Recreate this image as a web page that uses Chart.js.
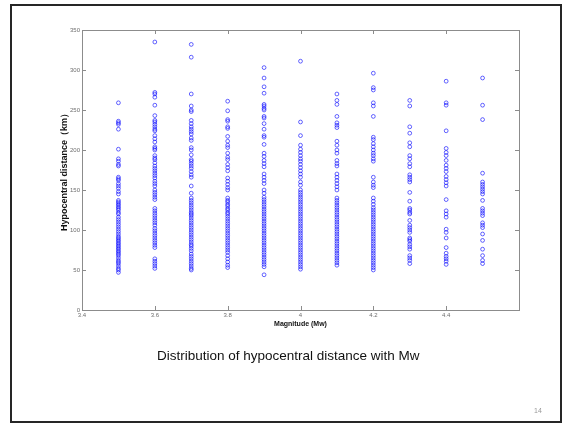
<!DOCTYPE html>
<html>
<head>
<meta charset="utf-8">
<title>Hypocentral distance vs Mw</title>
<script src="https://cdn.jsdelivr.net/npm/chart.js@4.4.1/dist/chart.umd.min.js"></script>
<style>
  html, body { margin: 0; padding: 0; background: #fff; }
  #slide {
    position: absolute; left: 10px; top: 4px; width: 552px; height: 419px;
    border: 2px solid #262626; box-sizing: border-box;
  }
  #plot { position: absolute; left: 0; top: 0; }
  .caption {
    position: absolute; left: 157px; top: 348px;
    font: 13.5px "Liberation Sans", Arial, sans-serif; color: #111;
  }
  .page {
    position: absolute; left: 534px; top: 407px;
    font: 7px "Liberation Sans", Arial, sans-serif; color: #999;
  }
</style>
</head>
<body>
<div id="slide"></div>
<canvas id="plot" width="571" height="424"></canvas>
<div class="caption">Distribution of hypocentral distance with Mw</div>
<div class="page">14</div>

<script>
// magnitude bins and the hypocentral distances (km) recorded in each
const magnitudes = [3.5, 3.6, 3.7, 3.8, 3.9, 4.0, 4.1, 4.2, 4.3, 4.4, 4.5];

const dist35 = [259, 236, 234, 232, 226, 201, 189, 186, 182, 180, 166, 164, 162, 158, 155, 152, 148, 145,
  137, 135, 133, 131, 129, 127, 125, 122, 120, 116, 113, 110, 107, 104, 101, 98, 95, 92, 90, 88, 86, 84,
  82, 80, 78, 76, 74, 72, 70, 68, 65, 62, 60, 58, 55, 52, 50, 47];
const dist36 = [335, 272, 270, 266, 256, 243, 237, 235, 232, 229, 226, 224, 218, 214, 210, 204, 202, 200,
  193, 190, 188, 184, 180, 177, 174, 171, 168, 165, 161, 158, 155, 150, 147, 144, 141, 138, 127, 124, 121,
  118, 115, 112, 109, 106, 102, 99, 96, 93, 90, 87, 84, 81, 78, 64, 61, 58, 55, 52];
const dist37 = [332, 316, 270, 255, 250, 248, 237, 233, 229, 226, 223, 220, 215, 212, 203, 200, 194, 188,
  186, 183, 180, 177, 173, 169, 166, 155, 146, 140, 137, 134, 131, 128, 125, 122, 120, 118, 115, 112, 109,
  106, 103, 100, 97, 94, 91, 88, 85, 82, 80, 77, 74, 70, 67, 64, 61, 58, 55, 52, 50];
const dist38 = [261, 249, 238, 236, 229, 227, 217, 211, 206, 203, 196, 191, 188, 182, 178, 174, 165, 161,
  157, 153, 150, 140, 137, 135, 132, 130, 127, 125, 122, 120, 117, 114, 111, 108, 105, 102, 99, 96, 93,
  90, 87, 84, 81, 78, 75, 72, 68, 64, 60, 56, 53];
const dist39 = [303, 290, 279, 271, 257, 255, 252, 250, 242, 240, 233, 226, 218, 216, 207, 196, 192, 187,
  183, 179, 170, 166, 162, 158, 150, 146, 141, 138, 135, 132, 129, 126, 123, 120, 117, 114, 111, 108, 105,
  102, 99, 96, 93, 90, 87, 84, 81, 78, 75, 72, 69, 66, 63, 60, 57, 54, 44];
const dist40 = [311, 235, 218, 206, 201, 197, 193, 189, 186, 182, 178, 174, 170, 166, 160, 156, 150, 147,
  144, 141, 138, 135, 132, 129, 126, 123, 120, 117, 114, 111, 108, 105, 102, 99, 96, 93, 90, 87, 84, 81,
  78, 75, 72, 69, 66, 63, 60, 57, 54, 51];
const dist41 = [270, 262, 257, 242, 234, 231, 228, 211, 206, 200, 196, 187, 183, 180, 170, 166, 162, 158,
  154, 150, 140, 137, 134, 131, 128, 125, 122, 119, 116, 113, 110, 107, 104, 101, 98, 95, 92, 89, 86, 83,
  80, 77, 74, 71, 68, 65, 62, 59, 56];
const dist42 = [296, 278, 275, 259, 255, 242, 216, 213, 208, 204, 200, 196, 193, 189, 186, 166, 160, 156,
  153, 140, 136, 132, 128, 125, 122, 119, 116, 113, 110, 107, 104, 101, 98, 95, 92, 89, 86, 83, 80, 77,
  74, 71, 68, 65, 62, 59, 56, 53, 50];
const dist43 = [262, 255, 229, 221, 209, 204, 193, 189, 183, 179, 169, 166, 163, 160, 147, 136, 127, 125,
  122, 120, 112, 106, 103, 100, 97, 90, 88, 86, 82, 79, 76, 68, 65, 62, 58];
const dist44 = [286, 259, 256, 224, 202, 197, 193, 187, 181, 177, 173, 167, 163, 159, 155, 138, 124, 120,
  116, 101, 97, 90, 78, 71, 67, 64, 61, 57];
const dist45 = [290, 256, 238, 171, 160, 157, 154, 151, 148, 145, 137, 127, 124, 121, 118, 109, 106, 103,
  95, 87, 76, 68, 62, 58];

const distances = [dist35, dist36, dist37, dist38, dist39, dist40, dist41, dist42, dist43, dist44, dist45];

const xTicks = [3.4, 3.6, 3.8, 4.0, 4.2, 4.4, 4.6];
const xTickLabels = ['3.4', '3.6', '3.8', '4', '4.2', '4.4', ''];
const yTicks = [0, 50, 100, 150, 200, 250, 300, 350];

const points = [];
magnitudes.forEach((m, i) => {
  distances[i].forEach(d => points.push({ x: m, y: d }));
});

const axisGrey = '#8c8c8c';
const tickFont = { family: 'Liberation Sans', size: 6 };

// matlab style box: frame all round with inward tick marks on every side
const boxTicks = {
  id: 'boxTicks',
  afterDatasetsDraw(chart) {
    const { ctx, chartArea: a, scales: { x, y } } = chart;
    ctx.save();
    ctx.strokeStyle = axisGrey;
    ctx.lineWidth = 1;
    ctx.strokeRect(a.left + 0.5, a.top + 0.5, a.right - a.left, a.bottom - a.top);
    ctx.beginPath();
    xTicks.forEach(v => {
      const px = Math.round(x.getPixelForValue(v)) + 0.5;
      ctx.moveTo(px, a.bottom); ctx.lineTo(px, a.bottom - 4);
      ctx.moveTo(px, a.top); ctx.lineTo(px, a.top + 4);
    });
    yTicks.forEach(v => {
      const py = Math.round(y.getPixelForValue(v)) + 0.5;
      ctx.moveTo(a.left, py); ctx.lineTo(a.left + 4, py);
      ctx.moveTo(a.right, py); ctx.lineTo(a.right - 4, py);
    });
    ctx.stroke();
    ctx.restore();
  }
};

new Chart(document.getElementById('plot'), {
  type: 'scatter',
  data: {
    datasets: [{
      data: points,
      pointStyle: 'circle',
      pointRadius: 1.9,
      pointBorderWidth: 0.9,
      borderColor: 'rgba(10, 10, 255, 0.7)',
      backgroundColor: 'rgba(0, 0, 0, 0)',
    }],
  },
  options: {
    responsive: false,
    animation: false,
    devicePixelRatio: 1,
    layout: { padding: { left: 55, right: 52, top: 30, bottom: 96 } },
    plugins: {
      legend: { display: false },
      tooltip: { enabled: false },
    },
    scales: {
      x: {
        type: 'linear',
        min: 3.4,
        max: 4.6,
        afterBuildTicks: s => { s.ticks = xTicks.map(v => ({ value: v })); },
        afterFit: s => { s.height = 18; },
        grid: { display: false, drawTicks: false, tickLength: 0 },
        border: { display: false },
        ticks: {
          autoSkip: false,
          maxRotation: 0,
          padding: 2,
          color: '#6e6e6e',
          font: tickFont,
          callback: (v, i) => xTickLabels[i],
        },
        title: {
          display: true,
          text: 'Magnitude (Mw)',
          color: '#111',
          font: { family: 'Liberation Sans', size: 7, weight: 'bold' },
          padding: 0,
        },
      },
      y: {
        min: 0,
        max: 350,
        afterBuildTicks: s => { s.ticks = yTicks.map(v => ({ value: v })); },
        afterFit: s => { s.width = 27; },
        grid: { display: false, drawTicks: false, tickLength: 0 },
        border: { display: false },
        ticks: {
          autoSkip: false,
          padding: 2,
          color: '#6e6e6e',
          font: tickFont,
        },
        title: {
          display: true,
          text: 'Hypocentral distance（km）',
          color: '#111',
          font: { family: 'Liberation Sans', size: 9, weight: 'bold' },
          padding: { top: 4, bottom: 0 },
        },
      },
    },
  },
  plugins: [boxTicks],
});
</script>
</body>
</html>
